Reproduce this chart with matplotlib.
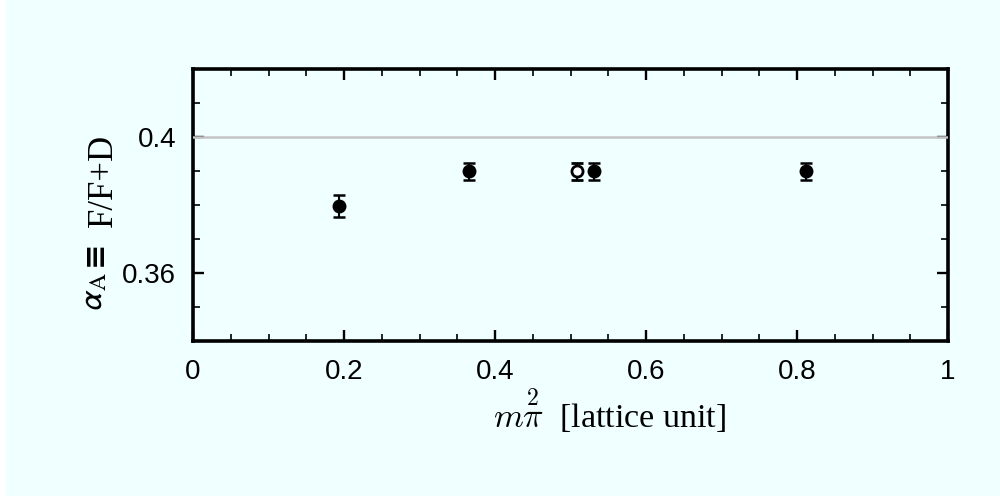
import numpy as np
import matplotlib
matplotlib.use("Agg")
import matplotlib.pyplot as plt
from matplotlib.ticker import MultipleLocator
from matplotlib.patches import Rectangle

# data
mpi2_filled = [0.193, 0.366, 0.531, 0.812]
alpha_filled = [0.3797, 0.3900, 0.3900, 0.3900]
err_filled = [0.0032, 0.0025, 0.0025, 0.0025]

mpi2_open = [0.509]
alpha_open = [0.3900]
err_open = [0.0025]

ref_value = 0.4

xtick_vals = [0, 0.2, 0.4, 0.6, 0.8, 1.0]
xtick_text = ['0', '0.2', '0.4', '0.6', '0.8', '1']
ytick_vals = [0.36, 0.40]
ytick_text = ['0.36', '0.4']

plt.rcParams['font.family'] = ['Liberation Sans', 'DejaVu Sans']
plt.rcParams['mathtext.fontset'] = 'stix'

bg = '#f0ffff'
fig = plt.figure(figsize=(10, 4.97), dpi=100, facecolor=bg)
# thin white strips on the left and bottom edges as in the original
fig.patches.append(Rectangle((0, 0), 0.006, 1, transform=fig.transFigure,
                             facecolor='white', edgecolor='none', zorder=0))
fig.patches.append(Rectangle((0, 0), 1, 0.003, transform=fig.transFigure,
                             facecolor='white', edgecolor='none', zorder=0))
ax = fig.add_axes([0.193, 0.314, 0.755, 0.547])
ax.set_facecolor(bg)

ax.axhline(ref_value, color='#c4c4c4', lw=1.8, zorder=3)

ax.errorbar(mpi2_filled, alpha_filled, yerr=err_filled, fmt='o', color='black',
            ms=9, capsize=4.5, elinewidth=1.5, capthick=1.8, zorder=4)
ax.errorbar(mpi2_open, alpha_open, yerr=err_open, fmt='o', color='black',
            mfc='white', mec='black', mew=2.0, ms=8, capsize=4.5,
            elinewidth=1.5, capthick=1.8, zorder=4)

ax.set_xlim(0, 1)
ax.set_ylim(0.34, 0.42)
ax.xaxis.set_minor_locator(MultipleLocator(0.05))
ax.yaxis.set_minor_locator(MultipleLocator(0.01))
ax.set_xticks(xtick_vals)
ax.set_xticklabels(xtick_text)
ax.set_yticks(ytick_vals)
ax.set_yticklabels(ytick_text)

ax.tick_params(which='both', direction='in', top=True, right=True, labelsize=20)
ax.tick_params(which='major', length=8, width=1.7)
ax.tick_params(which='minor', length=5, width=1.2)
ax.tick_params(axis='x', which='major', pad=13)
ax.tick_params(axis='y', which='major', pad=12)
for s in ax.spines.values():
    s.set_linewidth(2.6)

# x label
fig.text(0.493, 1 - 427 / 497, r'$m\overset{2}{\pi}$  [lattice unit]',
         fontsize=24.5, family=['Liberation Serif', 'DejaVu Serif'],
         math_fontfamily='cm', ha='left', va='baseline')

# y label, built in pieces (bold identity sign)
fig.text(0.103, 1 - 180 / 497, 'F/F+D', rotation=90, fontsize=25,
         family=['Liberation Serif', 'DejaVu Serif'], ha='center', va='center')
fig.text(0.094, 1 - 253 / 497, '\u2261', rotation=90, fontsize=22,
         family=['DejaVu Sans'], fontweight='bold', ha='center', va='center')
fig.text(0.094, 1 - 292 / 497, r'$\mathsf{\alpha}_{\mathrm{A}}$', rotation=90,
         fontsize=24, ha='center', va='center')

fig.savefig('out.png', dpi=100, facecolor=fig.get_facecolor())
